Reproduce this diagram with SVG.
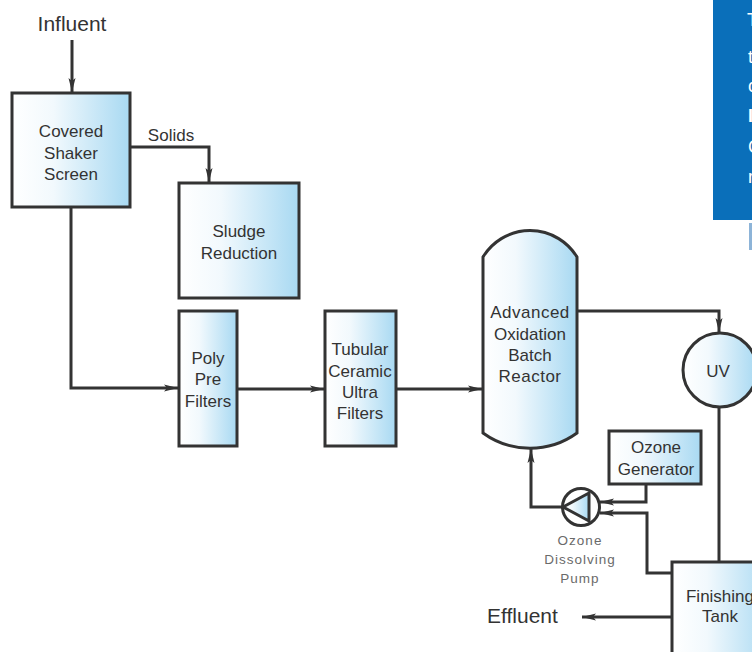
<svg xmlns="http://www.w3.org/2000/svg" width="752" height="652" viewBox="0 0 752 652">
<style>
.box{stroke:#333;stroke-width:3;fill:url(#g)}
.ln{fill:none;stroke:#333;stroke-width:3}
.t{font-family:"Liberation Sans",Arial,sans-serif;font-size:17px;fill:#333;text-anchor:middle}
.big{font-family:"Liberation Sans",Arial,sans-serif;font-size:21px;fill:#333}
.small{font-family:"Liberation Sans",Arial,sans-serif;font-size:13.5px;fill:#6a6a6a;text-anchor:middle;letter-spacing:1px}
.w{font-family:"Liberation Sans",Arial,sans-serif;font-size:18px;fill:#fff}
</style>
<defs>
<linearGradient id="g" x1="0" y1="0" x2="1" y2="0">
<stop offset="0" stop-color="#ffffff"/>
<stop offset="0.35" stop-color="#f2f9fd"/>
<stop offset="1" stop-color="#a8d9f2"/>
</linearGradient>
<marker id="a" markerUnits="userSpaceOnUse" markerWidth="15" markerHeight="8" refX="14" refY="4" orient="auto">
<path d="M0,0.5 L14,4 L0,7.5 L3,4 z" fill="#333"/>
</marker>
</defs>
<rect width="752" height="652" fill="#fff"/>

<g id="panel">
<rect x="713" y="0" width="39" height="220" fill="#0a6fba"/>
<rect x="749" y="223" width="3" height="27" fill="#8db4d8"/>
<text class="w" x="747" y="26">T</text>
<text class="w" x="748" y="63">t</text>
<text class="w" x="748" y="92">c</text>
<text class="w" x="748" y="122" font-weight="bold">I</text>
<text class="w" x="748" y="153">C</text>
<text class="w" x="748" y="183">r</text>
</g>

<g id="connectors">
<path class="ln" d="M72,40 V92" marker-end="url(#a)"/>
<path class="ln" d="M130,147 H209 V182" marker-end="url(#a)"/>
<path class="ln" d="M71,207 V388 H178" marker-end="url(#a)"/>
<path class="ln" d="M237,389 H324" marker-end="url(#a)"/>
<path class="ln" d="M396,389 H482" marker-end="url(#a)"/>
<path class="ln" d="M577,311 H719 V332" marker-end="url(#a)"/>
<path class="ln" d="M719,408 V562"/>
<path class="ln" d="M562,507 H531 V449" marker-end="url(#a)"/>
<path class="ln" d="M646,484 V502 H600" marker-end="url(#a)"/>
<path class="ln" d="M672,573 H647 V513 H600" marker-end="url(#a)"/>
<path class="ln" d="M672,617 H582" marker-end="url(#a)"/>
</g>

<g id="influent"><text class="big" x="72" y="31" text-anchor="middle">Influent</text></g>
<g id="effluent"><text class="big" x="487" y="623">Effluent</text></g>

<g id="shaker">
<rect class="box" x="12" y="93" width="118" height="114"/>
<text class="t" x="71" y="137">Covered</text>
<text class="t" x="71" y="159">Shaker</text>
<text class="t" x="71" y="180">Screen</text>
</g>
<g id="solids-label"><text class="t" x="171" y="141">Solids</text></g>

<g id="sludge">
<rect class="box" x="179" y="183" width="120" height="115"/>
<text class="t" x="239" y="237">Sludge</text>
<text class="t" x="239" y="259">Reduction</text>
</g>

<g id="poly">
<rect class="box" x="179" y="311" width="58" height="135"/>
<text class="t" x="208" y="364">Poly</text>
<text class="t" x="208" y="385">Pre</text>
<text class="t" x="208" y="407">Filters</text>
</g>

<g id="tubular">
<rect class="box" x="325" y="311" width="71" height="135"/>
<text class="t" x="360" y="355">Tubular</text>
<text class="t" x="360" y="377">Ceramic</text>
<text class="t" x="360" y="398">Ultra</text>
<text class="t" x="360" y="419">Filters</text>
</g>

<g id="reactor">
<path class="box" d="M483,257 A55,55 0 0 1 577,257 V433 A80,80 0 0 1 483,433 Z"/>
<text class="t" x="530" y="318" letter-spacing="0.5">Advanced</text>
<text class="t" x="530" y="340">Oxidation</text>
<text class="t" x="530" y="361">Batch</text>
<text class="t" x="530" y="382" letter-spacing="0.5">Reactor</text>
</g>

<g id="uv">
<circle class="box" cx="720" cy="370" r="37"/>
<text class="t" x="718" y="377">UV</text>
</g>

<g id="ozone-generator">
<rect class="box" x="609" y="431" width="92" height="53" stroke-width="2"/>
<text class="t" x="656" y="453">Ozone</text>
<text class="t" x="656" y="475">Generator</text>
</g>

<g id="pump">
<circle cx="581" cy="507" r="18.5" fill="#fff" stroke="#333" stroke-width="3"/>
<path d="M563,507 L589,493 L589,521 Z" fill="url(#g)" stroke="#333" stroke-width="3" stroke-linejoin="round"/>
<text class="small" x="580" y="545">Ozone</text>
<text class="small" x="580" y="564">Dissolving</text>
<text class="small" x="580" y="583">Pump</text>
</g>

<g id="finishing-tank">
<rect class="box" x="672" y="562" width="100" height="100"/>
<text class="t" x="720" y="602">Finishing</text>
<text class="t" x="720" y="622">Tank</text>
</g>
</svg>
